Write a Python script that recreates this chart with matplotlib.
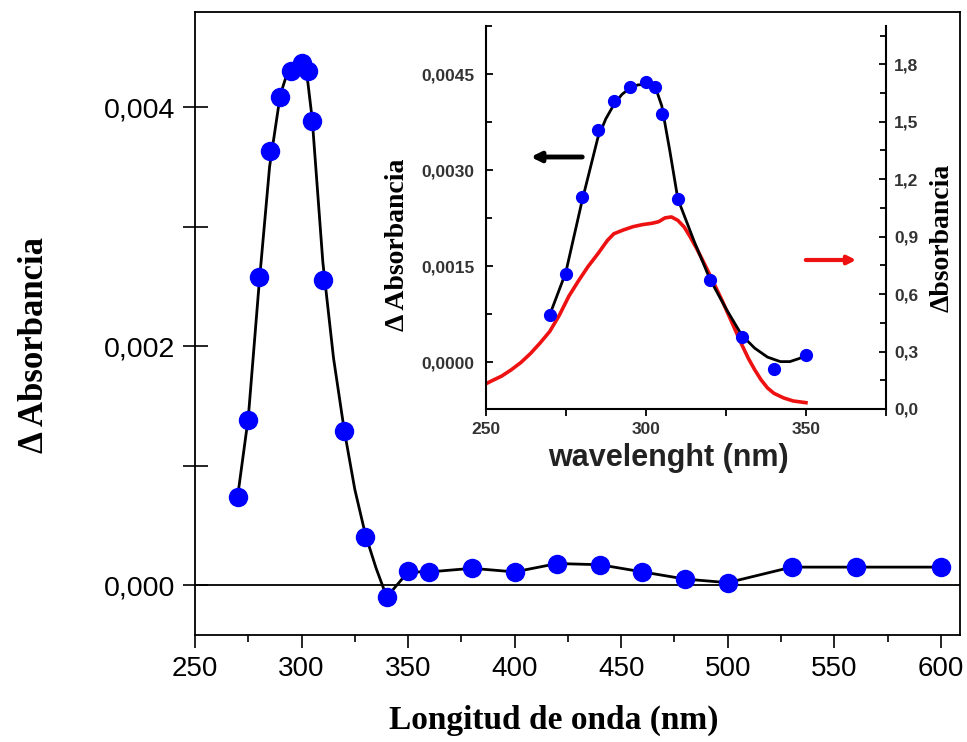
import matplotlib
matplotlib.use("Agg")
import matplotlib.pyplot as plt
from matplotlib.ticker import FuncFormatter, MultipleLocator

# ---------------- data ----------------
# measured points (nm, delta absorbance)
pts_wl = [270, 275, 280, 285, 290, 295, 300, 303, 305, 310, 320, 330, 340,
          350, 360, 380, 400, 420, 440, 460, 480, 500, 530, 560, 600]
pts_val = [0.00074, 0.00138, 0.00258, 0.00363, 0.00408, 0.00430, 0.00437,
           0.00430, 0.00388, 0.00255, 0.00129, 0.00040, -0.00010,
           0.000117, 0.00011, 0.00014, 0.00011, 0.00018, 0.00017, 0.00011,
           0.00005, 0.00002, 0.00015, 0.00015, 0.00015]

# black guide curve of the main plot
main_line_wl = [270, 275, 280, 285, 287.5, 290, 292.5, 295, 297.5, 300, 301.5,
                303, 305, 310, 315, 320, 325, 330, 335, 340, 350, 360, 380,
                400, 420, 440, 460, 480, 500, 530, 560, 600]
main_line_val = [0.00074, 0.0014, 0.0025, 0.0035, 0.0038, 0.0041, 0.00424,
                 0.00433, 0.00438, 0.0044, 0.00436, 0.0042, 0.0039, 0.0027,
                 0.0019, 0.0013, 0.0008, 0.00042, 0.00014, -0.0001, 0.00011,
                 0.00011, 0.00014, 0.00011, 0.00018, 0.00017, 0.00011,
                 0.00005, 0.00002, 0.00015, 0.00015, 0.00015]

# black fitted curve of the inset
inset_line_wl = [270, 275, 280, 285, 287.5, 290, 292.5, 295, 297.5, 300, 302,
                 303.5, 305, 307.5, 310, 315, 320, 325, 330, 334, 338, 342,
                 345, 348, 350]
inset_line_val = [0.00074, 0.0014, 0.0025, 0.0035, 0.0038, 0.00402, 0.00418,
                  0.00428, 0.00433, 0.00434, 0.00431, 0.00422, 0.0040,
                  0.0033, 0.00255, 0.0019, 0.0013, 0.00084, 0.00042, 0.00022,
                  0.00008, 0.00001, 0.00001, 0.00006, 0.000114]

# red absorbance spectrum (right axis of inset)
abs_wl = [250, 252, 255, 258, 261, 264, 267, 270, 273, 276, 279, 282, 285,
          288, 290, 293, 296, 299, 302, 304, 306, 308, 310, 312, 314, 316,
          318, 320, 322, 324, 326, 328, 330, 332, 334, 336, 338, 340, 343,
          346, 350]
abs_val = [0.131, 0.148, 0.172, 0.205, 0.243, 0.290, 0.345, 0.405, 0.490,
           0.590, 0.670, 0.745, 0.810, 0.880, 0.915, 0.935, 0.952, 0.963,
           0.970, 0.978, 0.998, 1.003, 0.985, 0.950, 0.895, 0.834, 0.768,
           0.700, 0.630, 0.560, 0.485, 0.410, 0.335, 0.265, 0.205, 0.152,
           0.110, 0.082, 0.058, 0.042, 0.033]

main_xticks = [250, 300, 350, 400, 450, 500, 550, 600]
main_yticks = [0.000, 0.002, 0.004]
inset_xticks = [250, 300, 350]
inset_yticks = [0.0000, 0.0015, 0.0030, 0.0045]
inset_rticks = [0.0, 0.3, 0.6, 0.9, 1.2, 1.5, 1.8]

# ---------------- figure ----------------
W, H = 967, 742
fig = plt.figure(figsize=(W / 100, H / 100), dpi=100)
fig.patch.set_facecolor("white")

sans = ["Liberation Sans", "DejaVu Sans"]
narrow = ["Liberation Sans Narrow", "Liberation Sans", "DejaVu Sans"]
serif = ["Liberation Serif", "DejaVu Serif"]

def fx(px):
    return px / W

def fy(py):
    return 1 - py / H

# main axes
ax = fig.add_axes([fx(195), fy(635), fx(960) - fx(195), fy(12) - fy(635)])
ax.plot(main_line_wl, main_line_val, color="black", lw=2.0, zorder=3,
        solid_joinstyle="round")
ax.plot(pts_wl, pts_val, "o", color="#0000ff", ms=13, mec="#0000ff", zorder=4)
ax.axhline(0, color="black", lw=1.3, zorder=2)
ax.set_xlim(250, 609)
ax.set_ylim(-0.000418, 0.004795)
ax.set_xticks(main_xticks)
ax.xaxis.set_minor_locator(MultipleLocator(25))
ax.set_yticks(main_yticks)
ax.yaxis.set_minor_locator(MultipleLocator(0.001))
ax.yaxis.set_major_formatter(FuncFormatter(lambda v, p: f"{v:.3f}".replace(".", ",").replace("-0,000", "0,000")))
ax.tick_params(axis="x", which="major", direction="out", length=9, width=1.2, labelsize=20, pad=6)
ax.tick_params(axis="x", which="minor", direction="out", length=5, width=1.2)
ax.tick_params(axis="y", which="both", direction="inout", length=18, width=1.2, labelsize=20.5, pad=5)
for lab in ax.get_xticklabels() + ax.get_yticklabels():
    lab.set_family(sans)
for s in ax.spines.values():
    s.set_linewidth(1.3)

fig.text(fx(554), fy(720), "Longitud de onda (nm)", ha="center", va="center",
         fontsize=24, fontweight="bold", family=serif)
fig.text(fx(35), fy(345), "\u0394 Absorbancia", ha="center", va="center",
         rotation=90, fontsize=25, fontweight="bold", family=serif)

# inset axes
ai = fig.add_axes([fx(485.7), fy(409), fx(886) - fx(485.7), fy(26) - fy(409)])
ai.patch.set_facecolor("white")
ai.plot(inset_line_wl, inset_line_val, color="black", lw=2.0, zorder=3,
        solid_joinstyle="round")
ai.plot(pts_wl[:14], pts_val[:14], "o", color="#0000ff", ms=8.5, mec="#0000ff", zorder=4)
ai.set_xlim(250, 375)
ai.set_ylim(-0.00073, 0.00525)
ai.set_xticks(inset_xticks)
ai.xaxis.set_minor_locator(MultipleLocator(25))
ai.set_yticks(inset_yticks)
ai.yaxis.set_minor_locator(MultipleLocator(0.00075))
ai.yaxis.set_major_formatter(FuncFormatter(lambda v, p: f"{v:.4f}".replace(".", ",").replace("-0,0000", "0,0000")))
ai.spines["top"].set_visible(False)
ai.spines["right"].set_visible(False)
for s in ["left", "bottom"]:
    ai.spines[s].set_linewidth(1.5)
ai.tick_params(axis="x", which="major", direction="out", length=5, width=1.3, labelsize=12.5, pad=4)
ai.tick_params(axis="x", which="minor", direction="out", length=5, width=1.3)
ai.tick_params(axis="y", which="major", direction="in", length=5, width=1.3, labelsize=12.5, pad=8)
ai.tick_params(axis="y", which="minor", direction="in", length=4, width=1.3)

ar = ai.twinx()
ar.plot(abs_wl, abs_val, color="#ee1111", lw=2.6, zorder=2, solid_joinstyle="round")
ar.set_ylim(0, 2.0)
ar.set_yticks(inset_rticks)
ar.yaxis.set_minor_locator(MultipleLocator(0.15))
ar.yaxis.set_major_formatter(FuncFormatter(lambda v, p: f"{v:.1f}".replace(".", ",")))
ar.spines["top"].set_visible(False)
ar.spines["left"].set_visible(False)
ar.spines["bottom"].set_visible(False)
ar.spines["right"].set_linewidth(1.5)
ar.tick_params(axis="y", which="major", direction="in", length=5, width=1.3, labelsize=12.5, pad=6)
ar.tick_params(axis="y", which="minor", direction="in", length=4, width=1.3)
ai.set_zorder(ar.get_zorder() + 1)
ai.patch.set_visible(False)
ar.patch.set_facecolor("white")
ar.patch.set_visible(True)

for lab in ai.get_xticklabels() + ai.get_yticklabels() + ar.get_yticklabels():
    lab.set_family(narrow)
    lab.set_fontweight("bold")
    lab.set_color("#333333")

fig.text(fx(668), fy(458), "wavelenght (nm)", ha="center", va="center",
         fontsize=22, fontweight="bold", family=sans, color="#222222")
fig.text(fx(397), fy(245), "\u0394 Absorbancia", ha="center", va="center",
         rotation=90, fontsize=20, fontweight="bold", family=serif)
fig.text(fx(942), fy(238), "\u0394bsorbancia", ha="center", va="center",
         rotation=90, fontsize=20, fontweight="bold", family=serif)

# arrows
fig.add_artist(matplotlib.patches.FancyArrowPatch(
    (fx(585), fy(157)), (fx(528), fy(157)), transform=fig.transFigure,
    arrowstyle="-|>", mutation_scale=14, lw=3.5, color="black"))
fig.add_artist(matplotlib.patches.FancyArrowPatch(
    (fx(803), fy(260)), (fx(859), fy(260)), transform=fig.transFigure,
    arrowstyle="-|>", mutation_scale=12, lw=3.0, color="#ee1111"))

fig.savefig("out.png", dpi=100, facecolor="white")
